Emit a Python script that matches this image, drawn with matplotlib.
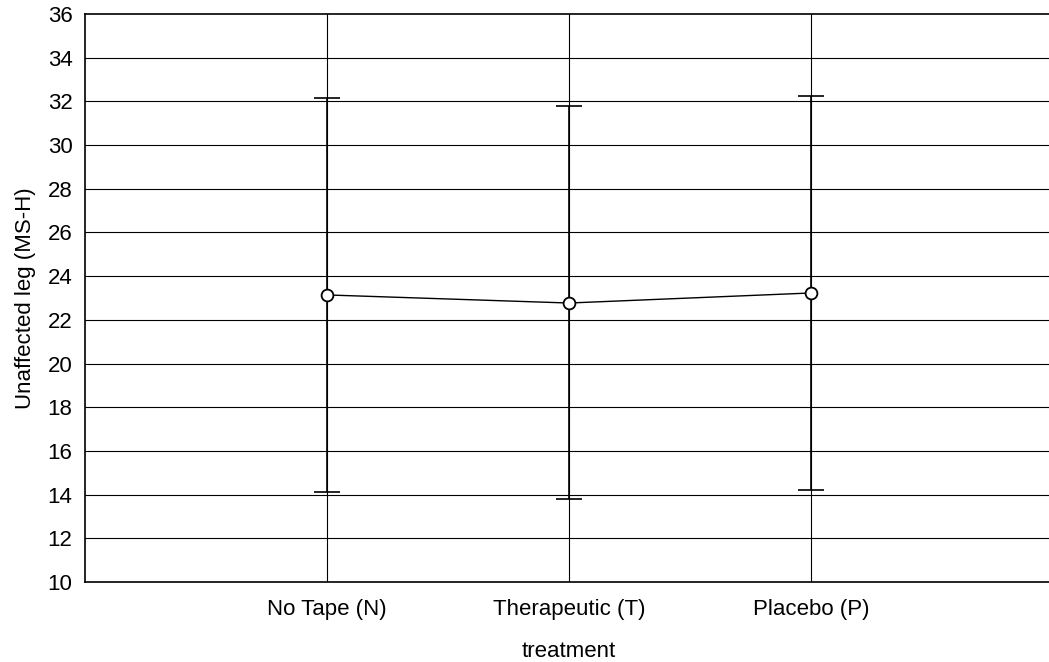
import matplotlib.pyplot as plt
import numpy as np

plt.rcParams['font.family'] = ['Liberation Sans', 'DejaVu Sans']

# data
treatments = ["No Tape (N)", "Therapeutic (T)", "Placebo (P)"]
means = [23.14, 22.77, 23.23]
upper = [32.15, 31.80, 32.25]
lower = [14.12, 13.78, 14.21]
yticks = [10, 12, 14, 16, 18, 20, 22, 24, 26, 28, 30, 32, 34, 36]

x = np.arange(1, len(treatments) + 1)
means = np.array(means)
err = [means - np.array(lower), np.array(upper) - means]

fig = plt.figure(figsize=(10.49, 6.62), dpi=100)
ax = fig.add_axes([0.081, 0.1208, 0.9228, 0.8581])

for y in yticks[1:-1]:
    ax.axhline(y, color="black", lw=0.8, zorder=1)
for xi in x:
    ax.axvline(xi, color="black", lw=0.8, zorder=1)

ax.errorbar(x, means, yerr=err, fmt="none", ecolor="black", elinewidth=1.2,
            capsize=9.4, capthick=1.2, zorder=2)
ax.plot(x, means, color="black", lw=1.0, marker="o", ms=8.5,
        mfc="white", mec="black", mew=1.3, zorder=3)

ax.set_xlim(0, 4)
ax.set_ylim(10, 36)
ax.set_xticks(x)
ax.set_xticklabels(treatments)
ax.set_yticks(yticks)
ax.tick_params(axis="both", length=0, labelsize=16)
ax.tick_params(axis="y", pad=9)
ax.tick_params(axis="x", pad=12)
ax.set_xlabel("treatment", fontsize=16, labelpad=15)
ax.set_ylabel("Unaffected leg (MS-H)", fontsize=16, labelpad=8)
ax.spines["right"].set_visible(False)
for s in ["left", "bottom", "top"]:
    ax.spines[s].set_linewidth(1.2)

plt.savefig("out.png", dpi=100)
